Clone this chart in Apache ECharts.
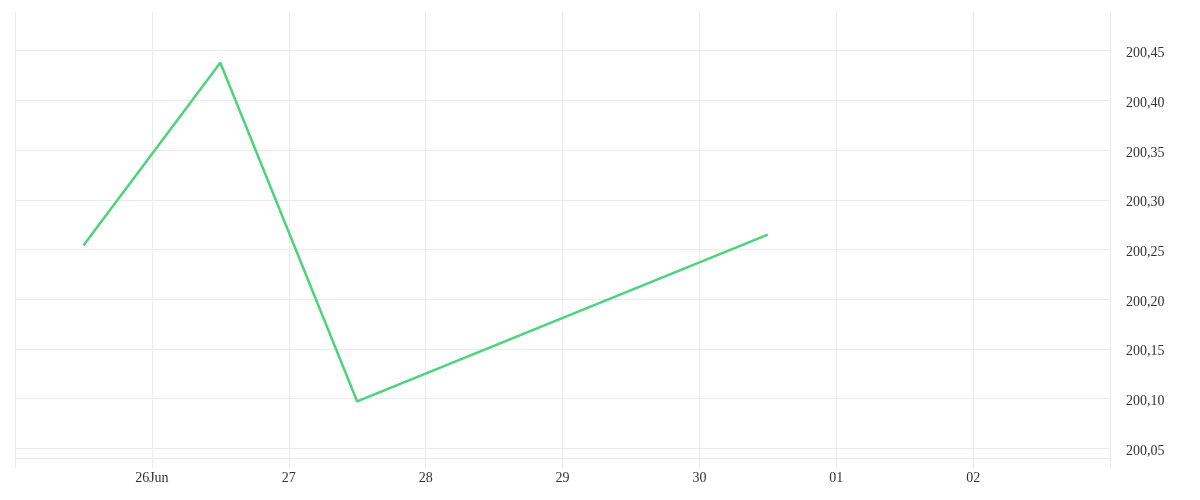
<!DOCTYPE html>
<html>
<head>
<meta charset="utf-8">
<script src="https://cdn.jsdelivr.net/npm/echarts@6/dist/echarts.min.js"></script>
<style>
html,body{margin:0;padding:0;background:#fff;}
#chart{width:1200px;height:500px;}
</style>
</head>
<body>
<div id="chart"></div>
<script>
// Data
var dates = ['2025-06-25 12:00', '2025-06-26 12:00', '2025-06-27 12:00', '2025-06-30 12:00'];
var prices = [200.254, 200.438, 200.097, 200.265];
var xTickLabels = ['26Jun', '27', '28', '29', '30', '01', '02'];
var xStart = '2025-06-25 00:00';
var xEnd = '2025-07-03 00:00';
var yMin = 200.03, yMax = 200.489, yStep = 0.05;
var baseLine = 200.04;

var DAY = 86400000;
var startMs = echarts.time.parse(xStart).getTime();

var chart = echarts.init(document.getElementById('chart'));
var fontFamily = 'Liberation Serif';
chart.setOption({
  animation: false,
  backgroundColor: '#fff',
  grid: {left: 15, right: 90, top: 12, bottom: 32},
  xAxis: {
    type: 'time',
    min: xStart,
    max: xEnd,
    minInterval: DAY,
    maxInterval: DAY,
    axisLine: {show: false},
    axisTick: {show: false},
    splitLine: {show: true, lineStyle: {color: '#ebebeb', width: 1}},
    axisLabel: {
      showMinLabel: false,
      showMaxLabel: false,
      margin: 3,
      color: '#333',
      fontFamily: fontFamily,
      fontSize: 14,
      formatter: function (v) {
        var idx = Math.round((v - startMs) / DAY) - 1;
        return xTickLabels[idx] !== undefined ? xTickLabels[idx] : '';
      }
    }
  },
  yAxis: {
    type: 'value',
    position: 'right',
    min: yMin,
    max: yMax,
    minInterval: yStep,
    maxInterval: yStep,
    splitNumber: 9,
    scale: true,
    axisLine: {show: false},
    axisTick: {show: false},
    splitLine: {show: true, showMinLine: false, showMaxLine: false, lineStyle: {color: '#ebebeb', width: 1}},
    axisLabel: {
      showMinLabel: false,
      showMaxLabel: false,
      margin: 16,
      color: '#333',
      fontFamily: fontFamily,
      fontSize: 14,
      formatter: function (v) { return '{v|' + v.toFixed(2).replace('.', ',') + '}'; },
      rich: {
        v: {
          color: '#333',
          fontFamily: fontFamily,
          fontSize: 14,
          padding: [6, 0, 0, 0]
        }
      }
    }
  },
  series: [{
    type: 'line',
    data: dates.map(function (d, i) { return [d, prices[i]]; }),
    showSymbol: false,
    symbol: 'none',
    lineStyle: {color: '#4cd47a', width: 2.5},
    markLine: {
      silent: true,
      symbol: 'none',
      label: {show: false},
      lineStyle: {color: '#ebebeb', width: 1, type: 'solid'},
      data: [{yAxis: baseLine}]
    }
  }]
});
</script>
</body>
</html>
